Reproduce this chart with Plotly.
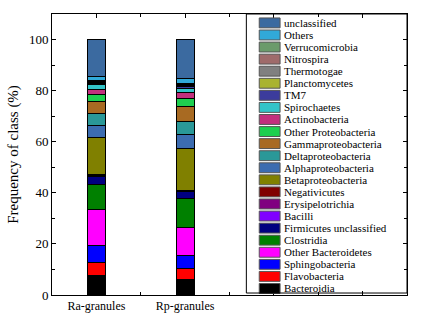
import plotly.graph_objects as go

categories = ["Ra-granules", "Rp-granules"]
cat_pos = [1, 2]

# bottom-to-top stacking order
classes = ["Bacteroidia", "Flavobacteria", "Sphingobacteria", "Other Bacteroidetes",
           "Clostridia", "Firmicutes unclassified", "Bacilli", "Erysipelotrichia",
           "Negativicutes", "Betaproteobacteria", "Alphaproteobacteria",
           "Deltaproteobacteria", "Gammaproteobacteria", "Other Proteobacteria",
           "Actinobacteria", "Spirochaetes", "TM7", "Planctomycetes", "Thermotogae",
           "Nitrospira", "Verrucomicrobia", "Others", "unclassified"]

ra_values = [7.6, 5.0, 6.8, 14.0, 10.0, 2.8, 0.3, 0.3, 0.5, 14.2, 4.8, 4.8, 4.6,
             2.6, 2.0, 2.0, 0.5, 0.3, 0.3, 0.2, 0.3, 1.5, 14.6]
rp_values = [5.9, 4.3, 5.4, 10.7, 11.6, 2.8, 0.1, 0.1, 0.1, 16.3, 5.5, 5.2, 5.6,
             3.3, 2.3, 1.5, 0.8, 0.3, 0.3, 0.2, 0.3, 2.0, 15.4]

colors = ["#000000", "#ff0000", "#0000ff", "#ff00ff", "#008000", "#000080",
          "#8000ff", "#800080", "#800000", "#808000", "#3c6cb0", "#2a9898",
          "#a86a22", "#1ecf4f", "#c2307d", "#33c4c8", "#3c3c9c", "#a9b330",
          "#808080", "#9f6b6b", "#6b9b6b", "#31a9d8", "#3b6aa0"]

yticks = [0, 20, 40, 60, 80, 100]

FONT = "Liberation Serif, Times New Roman, serif"

fig = go.Figure()
for name, a, b, c in zip(classes, ra_values, rp_values, colors):
    fig.add_trace(go.Bar(
        x=cat_pos, y=[a, b], name=name, width=0.2,
        marker=dict(color=c, line=dict(color="black", width=1)),
        showlegend=False,
    ))

# manual legend (top to bottom)
L, R, B, T = 49, 407, 298, 14
W, H = R - L, B - T

def px(x):
    return (x - L) / W

def py(y):
    return (B - y) / H

shapes = []
annotations = []
legend_items = list(zip(classes, colors))[::-1]
y0, step = 23.0, 12.2
for i, (name, c) in enumerate(legend_items):
    yc = y0 + i * step
    shapes.append(dict(type="rect", xref="paper", yref="paper",
                       x0=px(258), x1=px(279), y0=py(yc + 5), y1=py(yc - 5),
                       fillcolor=c, line=dict(color="#555555", width=1)))
    annotations.append(dict(text=name, xref="paper", yref="paper",
                            x=px(281), y=py(yc), xanchor="left", yanchor="middle",
                            showarrow=False, font=dict(family=FONT, size=11, color="black")))

# legend frame
shapes.append(dict(type="rect", xref="paper", yref="paper",
                   x0=px(245), x1=1, y0=py(296), y1=1,
                   fillcolor="rgba(0,0,0,0)", line=dict(color="black", width=1)))

fig.update_layout(
    barmode="stack",
    width=423, height=325,
    margin=dict(l=L, r=423 - R, t=T, b=325 - B),
    paper_bgcolor="white", plot_bgcolor="white",
    font=dict(family=FONT, size=12, color="black"),
    shapes=shapes, annotations=annotations,
    showlegend=False,
)
fig.update_xaxes(
    range=[0.5, 4.5], tickvals=[1, 2, 3, 4], ticktext=categories + ["", ""],
    ticks="inside", ticklen=4, tickcolor="black",
    minor=dict(dtick=0.5, tick0=0.5, ticks="inside", ticklen=3, tickcolor="black"),
    showline=True, linecolor="black", linewidth=1, mirror="ticks",
    showgrid=False, zeroline=False, tickfont=dict(size=12),
)
fig.update_yaxes(
    range=[0, 110], tickvals=yticks,
    ticks="inside", ticklen=4, tickcolor="black",
    minor=dict(dtick=10, ticks="inside", ticklen=3, tickcolor="black"),
    showline=True, linecolor="black", linewidth=1, mirror="ticks",
    showgrid=False, zeroline=False, tickfont=dict(size=13),
    title=dict(text="Frequency of class (%)", font=dict(size=15), standoff=6),
)

fig.write_html("out.html")
